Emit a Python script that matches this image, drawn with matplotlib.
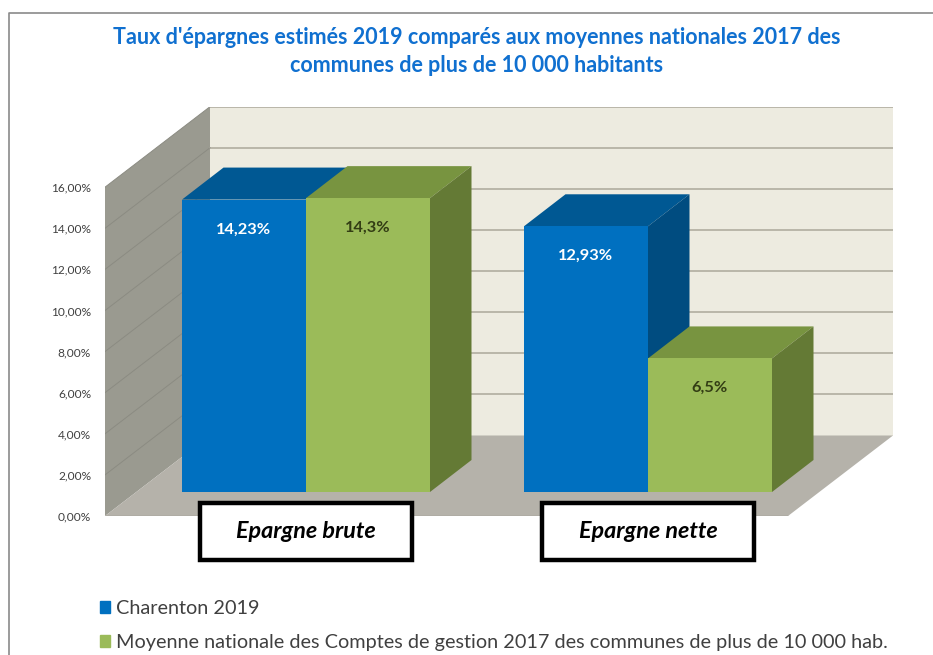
import matplotlib
matplotlib.use("Agg")
import matplotlib.pyplot as plt
from matplotlib.lines import Line2D
from matplotlib.patches import Patch, Polygon, Rectangle

plt.rcParams["font.family"] = ["Lato", "DejaVu Sans"]

categories = ["Epargne brute", "Epargne nette"]
charenton = [14.23, 12.93]
moyenne = [14.3, 6.5]
charenton_labels = ["14,23%", "12,93%"]
moyenne_labels = ["14,3%", "6,5%"]
yticks = [0, 2, 4, 6, 8, 10, 12, 14, 16]
ytick_labels = ["0,00%", "2,00%", "4,00%", "6,00%", "8,00%", "10,00%", "12,00%", "14,00%", "16,00%"]
legend_names = ["Charenton 2019",
                "Moyenne nationale des Comptes de gestion 2017 des communes de plus de 10 000 hab."]
title = "Taux d'épargnes estimés 2019 comparés aux moyennes nationales 2017 des\ncommunes de plus de 10 000 habitants"

W, H = 933, 655
GROUP_PX = 342.0   # pixels between the two groups
UNIT_PX = 20.55    # pixels for 1 %
X0_PX = 306.0      # pixel position of the first group

# fake 3D depth, in data units
bar_w = 124 / GROUP_PX
bar_dx = 41.5 / GROUP_PX
bar_dy = 32 / UNIT_PX
wall_dx = 105 / GROUP_PX
wall_dy = 80.5 / UNIT_PX
base = 24 / UNIT_PX  # bars stand a bit behind the front of the floor


def draw_bar(ax, left, value, front, top, side, z):
    y1 = base + value
    ax.bar(left, value, bar_w, bottom=base, align="edge", color=front, zorder=z + 0.2)
    ax.add_patch(Polygon([(left, y1), (left + bar_w, y1), (left + bar_w + bar_dx, y1 + bar_dy),
                          (left + bar_dx, y1 + bar_dy)], color=top, lw=0, zorder=z))
    ax.add_patch(Polygon([(left + bar_w, base), (left + bar_w + bar_dx, base + bar_dy),
                          (left + bar_w + bar_dx, y1 + bar_dy), (left + bar_w, y1)],
                         color=side, lw=0, zorder=z))


fig = plt.figure(figsize=(W / 100, H / 100), dpi=100)
ax = fig.add_axes([105 / W, 1 - 516 / H, 788 / W, 409 / H])
ax.set_xlim((105 - X0_PX) / GROUP_PX, (893 - X0_PX) / GROUP_PX)
ax.set_ylim(0, 409 / UNIT_PX)
ax.patch.set_visible(False)
for s in ax.spines.values():
    s.set_visible(False)
ax.set_xticks([])
ax.set_yticks(yticks)
ax.set_yticklabels(ytick_labels, fontsize=8.6, color="#404040")
ax.tick_params(axis="y", length=0, pad=10)

xl, xr = ax.get_xlim()
top_v = yticks[-1]

# walls and floor
ax.add_patch(Polygon([(xl + wall_dx, wall_dy), (xr, wall_dy), (xr, wall_dy + top_v),
                      (xl + wall_dx, wall_dy + top_v)], color="#edebe0", lw=0, zorder=1))
ax.add_patch(Polygon([(xl, 0), (xl + wall_dx, wall_dy), (xl + wall_dx, wall_dy + top_v),
                      (xl, top_v)], color="#9a9a90", lw=0, zorder=1))
ax.add_patch(Polygon([(xl, 0), (xr - wall_dx, 0), (xr, wall_dy), (xl + wall_dx, wall_dy)],
                     color="#b5b2aa", lw=0, zorder=1))
for v in yticks[1:]:
    ax.plot([xl + wall_dx, xr], [v + wall_dy] * 2, color="#b5b2a5", lw=1.3, zorder=2)
    ax.plot([xl, xl + wall_dx], [v, v + wall_dy], color="#8b8b82", lw=0.7, zorder=2)
ax.plot([xl, xr - wall_dx], [0, 0], color="#9a988f", lw=1, zorder=2)

# bars and value labels
for i in range(len(categories)):
    draw_bar(ax, i - bar_w, charenton[i], "#0070c0", "#005893", "#004c80", 3)
    draw_bar(ax, i, moyenne[i], "#9bbb59", "#789440", "#647a35", 4)
    ax.annotate(charenton_labels[i], (i - bar_w / 2, base + charenton[i]), xytext=(0, -21.5),
                textcoords="offset points", ha="center", va="center", color="white",
                fontsize=11.8, fontweight="bold", zorder=6)
    ax.annotate(moyenne_labels[i], (i + bar_w / 2, base + moyenne[i]), xytext=(0, -21.5),
                textcoords="offset points", ha="center", va="center", color="#333d14",
                fontsize=11.8, fontweight="bold", zorder=6)

    # boxed category label
    box_w = 212 / GROUP_PX
    ax.add_patch(Rectangle((i - box_w / 2, -43.5 / UNIT_PX), box_w, 57 / UNIT_PX, fc="white",
                           ec="black", lw=3.2, clip_on=False, zorder=7))
    ax.text(i, -15.5 / UNIT_PX, categories[i], ha="center", va="center", fontsize=16.8,
            fontweight="bold", fontstyle="italic", color="black", zorder=8)

# title
fig.text(477 / W, 1 - 51.5 / H, title, ha="center", va="center", color="#1070d0", fontsize=15.5,
         fontweight="bold", linespacing=1.38)

# legend
handles = [Patch(color="#0070c0"), Patch(color="#9bbb59")]
fig.legend(handles, legend_names, loc="upper left", bbox_to_anchor=(100 / W, 1 - 600 / H),
           frameon=False, fontsize=14.3, labelcolor="#404040", handlelength=0.5, handleheight=0.5,
           handletextpad=0.33, labelspacing=0.86, borderpad=0, borderaxespad=0)

# outer frame of the slide
fig.add_artist(Line2D([8.5 / W, 8.5 / W, 1], [0, 1 - 13 / H, 1 - 13 / H], color="#8a8a8a", lw=1.2))

fig.savefig("out.png", dpi=100)
